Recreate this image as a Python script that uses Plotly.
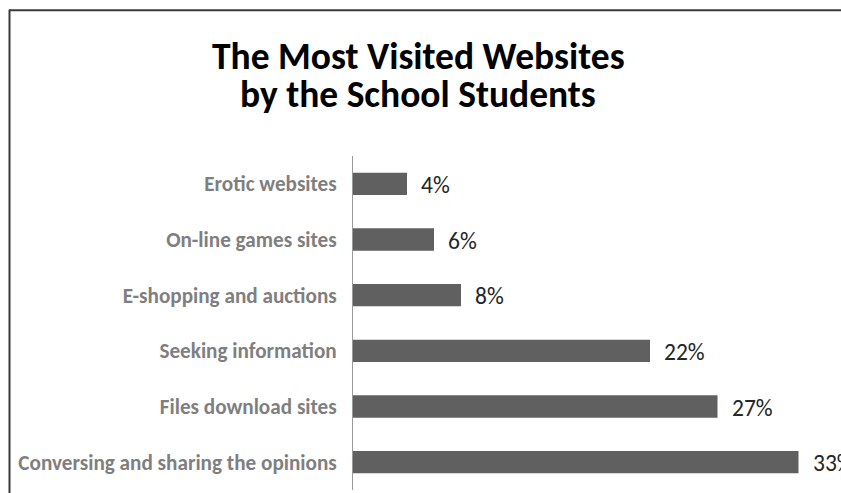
import plotly.graph_objects as go

# Survey results: share of students naming each type of website
categories = [
    "Erotic websites",
    "On-line games sites",
    "E-shopping and auctions",
    "Seeking information",
    "Files download sites",
    "Conversing and sharing the opinions",
]
shares = [4, 6, 8, 22, 27, 33]
title_lines = ["The Most Visited Websites", "by the School Students"]

W, H = 841, 493
ML, MR, MT, MB = 353, 2, 156, 3.4
PW = W - ML - MR
PH = H - MT - MB
FONT = "Carlito, Calibri, Lato, sans-serif"


def px_x(px):
    return (px - ML) / PW


def px_y(py):
    return (H - MB - py) / PH


fig = go.Figure(
    go.Bar(
        x=shares,
        y=categories,
        orientation="h",
        marker=dict(color="#606060", line=dict(width=0)),
        width=0.4,
        hoverinfo="skip",
    )
)

# value labels to the right of each bar
for cat, val in zip(categories, shares):
    fig.add_annotation(
        x=val, y=cat, xref="x", yref="y",
        text=f"{val}%", showarrow=False,
        xanchor="left", yanchor="middle", xshift=12, yshift=-1,
        font=dict(family=FONT, size=23.5, color="#262626"),
    )

# two-line title
for line, ypx in zip(title_lines, [56, 94]):
    fig.add_annotation(
        x=px_x(418), y=px_y(ypx), xref="paper", yref="paper",
        text=f"<b>{line}</b>", showarrow=False,
        xanchor="center", yanchor="middle",
        font=dict(family=FONT, size=37.5, color="#000000"),
    )

# frame around the chart (top and left edges)
fig.add_shape(type="line", xref="paper", yref="paper",
              x0=px_x(9), x1=px_x(W + 5), y0=px_y(10.5), y1=px_y(10.5),
              line=dict(color="#3a3a3a", width=2))
fig.add_shape(type="line", xref="paper", yref="paper",
              x0=px_x(9.5), x1=px_x(9.5), y0=px_y(10), y1=px_y(H + 5),
              line=dict(color="#3a3a3a", width=2))

fig.update_layout(
    width=W, height=H,
    margin=dict(l=ML, r=MR, t=MT, b=MB, pad=0),
    paper_bgcolor="white", plot_bgcolor="white",
    showlegend=False,
    bargap=0.6,
    xaxis=dict(range=[0, PW / 13.5], visible=False, fixedrange=True),
    yaxis=dict(
        autorange="reversed",
        showline=True, linecolor="#9a9a9a", linewidth=1,
        showgrid=False, zeroline=False, ticks="",
        ticklabelstandoff=11,
        tickfont=dict(family=FONT, size=21.2, color="#7f7f7f", weight="bold"),
        fixedrange=True,
    ),
)

fig.write_html("out.html")
